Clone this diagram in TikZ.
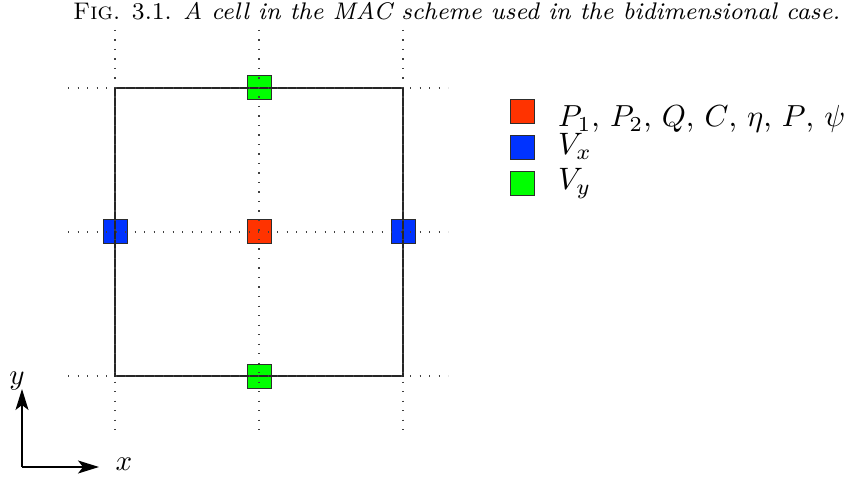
\documentclass[tikz,border=0pt]{standalone}
\usetikzlibrary{arrows.meta}
\definecolor{macred}{RGB}{255,51,0}
\definecolor{macblue}{RGB}{0,51,255}
\definecolor{macgreen}{RGB}{0,255,0}
\definecolor{edge}{RGB}{45,45,45}
\newcommand{\bigtxt}[2]{\scalebox{#1}{\fontsize{10}{12}\selectfont #2}}
\begin{document}
\begin{tikzpicture}[x=1pt,y=-1pt,
  marker/.style={draw=edge,line width=1pt,minimum size=24pt,inner sep=0pt,outer sep=0pt},
  gridline/.style={line width=1.1pt,dash pattern=on 1.1pt off 8.4pt,black!75},
  cellline/.style={line width=1.2pt,black!85},
  axis/.style={line width=1.3pt,-{Stealth[length=21pt,width=13pt,inset=5pt]}},
  lbl/.style={inner sep=0pt,anchor=base west}]
\useasboundingbox (0,0) rectangle (848,478);
% caption
\node[anchor=base west,inner sep=0pt] (cap) at (73,20)
  {\resizebox{767pt}{!}{\fontsize{8}{10}\selectfont\textsc{Fig.} 3.1. \textit{A cell in the MAC scheme used in the bidimensional case.}}};
% markers
\node[marker,fill=macgreen] (vyt) at (259,88) {};
\node[marker,fill=macgreen] (vyb) at (259,376) {};
\node[marker,fill=macblue] (vxl) at (115,232) {};
\node[marker,fill=macblue] (vxr) at (403,232) {};
\node[marker,fill=macred] (pc) at (259,232) {};
% cell
\coordinate (c1) at (115,88);
\coordinate (c2) at (403,376);
\draw[cellline] (c1) rectangle (c2);
% dotted grid
\foreach \x/\n in {115/a,259/b,403/c}{
  \coordinate (vt\n) at (\x,30);
  \coordinate (vb\n) at (\x,436);
  \draw[gridline] (vt\n) -- (vb\n);
}
\foreach \y/\n in {88/a,232/b,376/c}{
  \coordinate (hl\n) at (68,\y);
  \coordinate (hr\n) at (448,\y);
  \draw[gridline] (hl\n) -- (hr\n);
}
% legend
\node[marker,fill=macred] (lr) at (522,112) {};
\node[marker,fill=macblue] (lb) at (522,148) {};
\node[marker,fill=macgreen] (lg) at (522,184) {};
\node[lbl] (tr) at (558,127) {\resizebox{287pt}{!}{\fontsize{10}{12}\selectfont $P_1$, $P_2$, $Q$, $C$, $\eta$, $P$, $\psi$}};
\node[lbl] (tb) at (558,155) {\bigtxt{3.1}{$V_x$}};
\node[lbl] (tg) at (558,190) {\bigtxt{3.1}{$V_y$}};
% axes
\coordinate (o) at (22,467);
\coordinate (ytip) at (22,389);
\coordinate (xtip) at (99,467);
\draw[axis] (o) -- (ytip);
\draw[axis] (o) -- (xtip);
\node[inner sep=0pt] (ly) at (17,381) {\bigtxt{2.9}{$y$}};
\node[inner sep=0pt] (lx) at (124,464) {\bigtxt{2.9}{$x$}};
\end{tikzpicture}
\end{document}
